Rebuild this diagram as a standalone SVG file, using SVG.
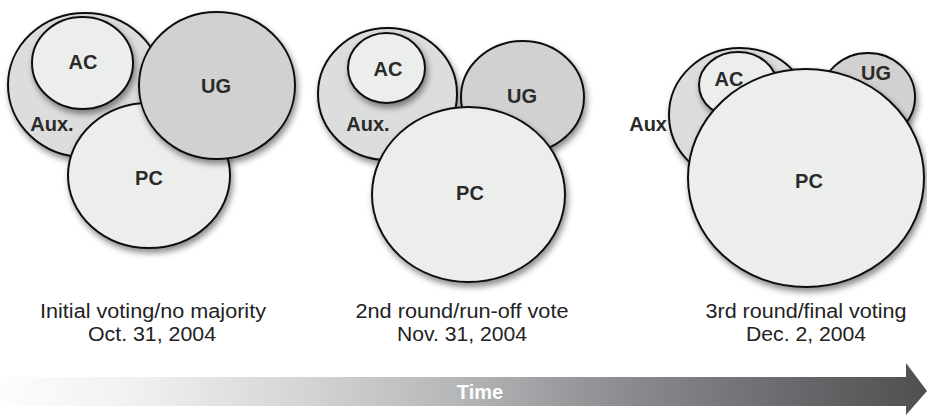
<svg xmlns="http://www.w3.org/2000/svg" width="927" height="416" viewBox="0 0 927 416">
<style>
.c{stroke:#111;stroke-width:2;filter:url(#sh)}
.aux{fill:#dcdedd}
.lt{fill:#eceeec}
.ug{fill:#d1d1d1}
.lb{font-family:"Liberation Sans",Arial,Helvetica,sans-serif;font-weight:bold;font-size:20px;fill:#2a2a2a;text-anchor:middle}
.cap{font-family:"Liberation Sans",Arial,Helvetica,sans-serif;font-size:20px;fill:#222;text-anchor:middle}
</style>
<defs>
<filter id="sh" x="-20%" y="-20%" width="140%" height="150%">
<feDropShadow dx="2" dy="4" stdDeviation="3" flood-color="#000" flood-opacity="0.45"/>
</filter>
<linearGradient id="tg" gradientUnits="userSpaceOnUse" x1="0" y1="0" x2="927" y2="0">
<stop offset="0" stop-color="#fdfdfd"/>
<stop offset="0.15" stop-color="#f0f0f0"/>
<stop offset="0.33" stop-color="#d3d4d5"/>
<stop offset="0.5" stop-color="#b4b5b7"/>
<stop offset="0.66" stop-color="#8e8f92"/>
<stop offset="0.82" stop-color="#6f7073"/>
<stop offset="1" stop-color="#4f4f51"/>
</linearGradient>
</defs>

<g id="round1">
<g id="r1-aux"><ellipse class="c aux" cx="85" cy="85" rx="77" ry="72"/><text class="lb" x="52" y="131">Aux.</text></g>
<g id="r1-ac"><ellipse class="c lt" cx="82.5" cy="63" rx="50.5" ry="46"/><text class="lb" x="83" y="69">AC</text></g>
<g id="r1-pc"><ellipse class="c lt" cx="149" cy="175.5" rx="81" ry="72.5"/><text class="lb" x="149" y="185">PC</text></g>
<g id="r1-ug"><ellipse class="c ug" cx="217" cy="85.5" rx="78" ry="73.5"/><text class="lb" x="216" y="93">UG</text></g>
<g id="r1-caption"><text class="cap" x="153" y="318" textLength="226" lengthAdjust="spacingAndGlyphs">Initial voting/no majority</text><text class="cap" x="152" y="341" textLength="128" lengthAdjust="spacingAndGlyphs">Oct. 31, 2004</text></g>
</g>

<g id="round2">
<g id="r2-aux"><ellipse class="c aux" cx="387.5" cy="94" rx="69.5" ry="66"/><text class="lb" x="368" y="131">Aux.</text></g>
<g id="r2-ac"><ellipse class="c lt" cx="386.5" cy="68" rx="38.5" ry="35"/><text class="lb" x="388" y="76">AC</text></g>
<g id="r2-ug"><ellipse class="c ug" cx="522.5" cy="97" rx="61.5" ry="56"/><text class="lb" x="522" y="103">UG</text></g>
<g id="r2-pc"><ellipse class="c lt" cx="468.5" cy="194.5" rx="96.5" ry="87.5"/><text class="lb" x="470" y="200">PC</text></g>
<g id="r2-caption"><text class="cap" x="462" y="318" textLength="213" lengthAdjust="spacingAndGlyphs">2nd round/run-off vote</text><text class="cap" x="462" y="341" textLength="130" lengthAdjust="spacingAndGlyphs">Nov. 31, 2004</text></g>
</g>

<g id="round3">
<g id="r3-aux"><ellipse class="c aux" cx="740" cy="115" rx="71" ry="67"/><text class="lb" x="667" y="131" style="text-anchor:end">Aux</text></g>
<g id="r3-ac"><ellipse class="c lt" cx="738" cy="85" rx="39" ry="33"/><text class="lb" x="729" y="86">AC</text></g>
<g id="r3-ug"><ellipse class="c ug" cx="868" cy="97" rx="47" ry="44"/><text class="lb" x="876" y="80">UG</text></g>
<g id="r3-pc"><ellipse class="c lt" cx="806" cy="178" rx="118" ry="109"/><text class="lb" x="809" y="188">PC</text></g>
<g id="r3-caption"><text class="cap" x="806" y="318" textLength="201" lengthAdjust="spacingAndGlyphs">3rd round/final voting</text><text class="cap" x="806" y="341" textLength="120" lengthAdjust="spacingAndGlyphs">Dec. 2, 2004</text></g>
</g>

<g id="connectors">
<g id="timeline">
<path d="M0,377 H906 V363 L927,391 L906,415 V406 H0 Z" fill="url(#tg)"/>
<text x="480" y="399" style="font-family:'Liberation Sans',Arial,sans-serif;font-weight:bold;font-size:20px;fill:#fff;text-anchor:middle">Time</text>
</g>
</g>
</svg>
